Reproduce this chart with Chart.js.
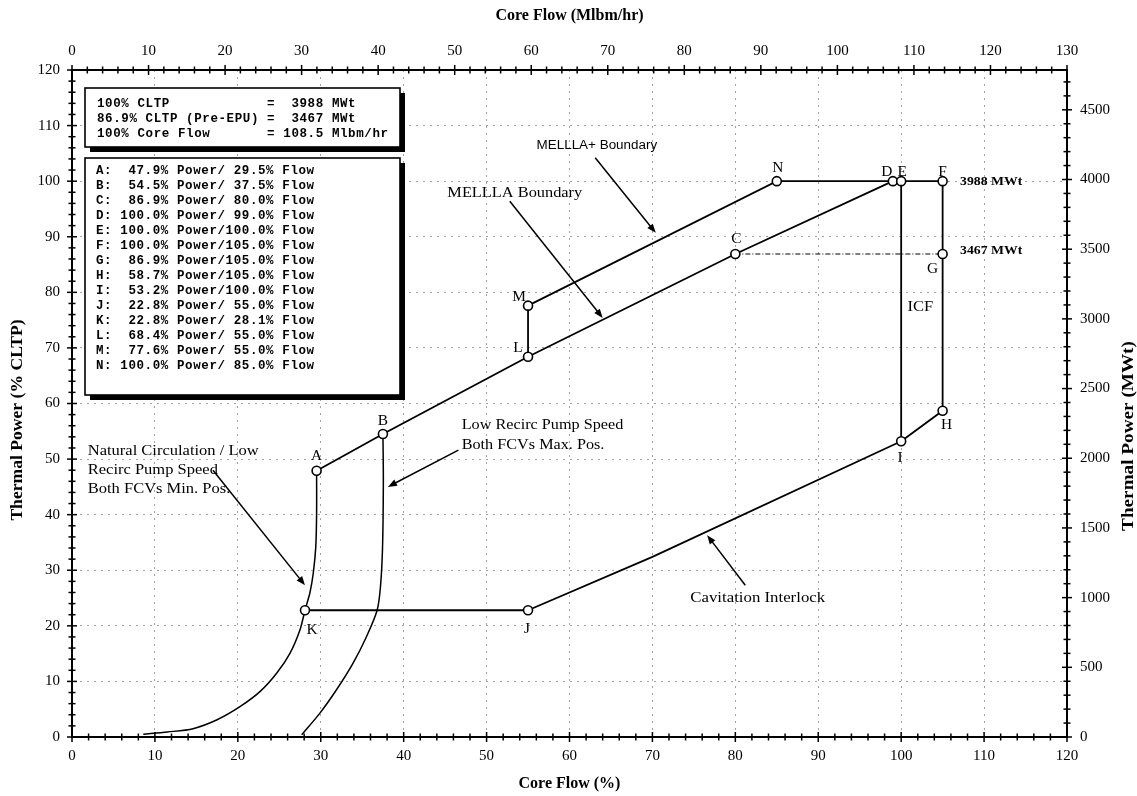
<!DOCTYPE html>
<html><head><meta charset="utf-8">
<script src="https://cdn.jsdelivr.net/npm/chart.js@4/dist/chart.umd.min.js"></script>
<style>html,body{margin:0;padding:0;background:#fff}#wrap{width:1137px;height:796px}</style>
</head><body><div id="wrap"><canvas id="c" width="1137" height="796"></canvas></div>
<script>
// ---------------- DATA ----------------
const flowTicks  = [0,10,20,30,40,50,60,70,80,90,100,110,120];
const powerTicks = [0,10,20,30,40,50,60,70,80,90,100,110,120];
const mlbmTicks  = [0,10,20,30,40,50,60,70,80,90,100,110,120,130];
const mwtTicks   = [0,500,1000,1500,2000,2500,3000,3500,4000,4500];

const pointNames = ['A','B','C','D','E','F','G','H','I','J','K','L','M','N'];
const pointPower = [47.9,54.5,86.9,100.0,100.0,100.0,86.9,58.7,53.2,22.8,22.8,68.4,77.6,100.0];
const pointFlow  = [29.5,37.5,80.0,99.0,100.0,105.0,105.0,105.0,100.0,55.0,28.1,55.0,55.0,85.0];

const cltpMWt = 3988;
const preEpuPct = 86.9;
const preEpuMWt = 3467;
const ratedCoreFlow = 108.5; // Mlbm/hr at 100% core flow

const melllaPath     = ['A','B','L','C','D'];
const melllaPlusPath = ['M','N','D','E','F'];
const lmPath         = ['L','M'];
const fghiPath       = ['F','G','H','I'];
const eiPath         = ['E','I'];
const jkPath         = ['J','K'];
const preEpuPath     = ['C','G'];

const cavFlow  = [55.0, 70.0, 100.0];
const cavPower = [22.8, 32.4, 53.2];

const natCircFlow  = [8.6,11.5,14.6,17.5,20.3,22.7,24.7,26.3,27.5,28.1,28.7,29.1,29.4,29.5,29.5];
const natCircPower = [0.5,0.9,1.5,3.1,5.5,8.2,11.5,15.1,19.3,22.8,26.0,29.5,34.2,40.2,47.9];

const recircMaxFlow  = [27.7,29.9,31.9,33.9,35.5,36.8,37.2,37.45,37.55,37.5];
const recircMaxPower = [0.4,4.3,8.5,13.3,18.0,22.8,27.0,34.0,46.0,54.5];

// ---------------- helpers ----------------
const pt = n => { const i = pointNames.indexOf(n); return {x: pointFlow[i], y: pointPower[i]}; };
const path = names => names.map(pt);
const zipXY = (xs, ys) => xs.map((x, i) => ({x, y: ys[i]}));

const SERIF = '"Liberation Serif", "Times New Roman", serif';
const SANS = '"Liberation Sans", Arial, sans-serif';
const MONO = '"Liberation Mono", "Courier New", monospace';

const lineDs = (data, extra) => Object.assign({
  data, showLine: true, borderColor: '#000', borderWidth: 1.8,
  pointRadius: 0, pointHoverRadius: 0, fill: false, tension: 0
}, extra || {});

// label offsets (px) for the point letters
const letterOffsets = {
  A:[0,-14], B:[0,-13], C:[1,-15], D:[-6,-9], E:[1,-9], F:[0,-9], G:[-10,15],
  H:[4,15], I:[-1,17], J:[-1,19], K:[7,20], L:[-10,-8], M:[-9,-8], N:[1,-13]
};

// annotations (data coordinates)
const notes = [
  {lines:['MELLLA+ Boundary'], x:63.3, y:106.3, font:'12px '+SANS, sx:1.12, align:'center'},
  {lines:['MELLLA Boundary'], x:53.4, y:97.9, font:'15px '+SERIF, sx:1.09, align:'center'},
  {lines:['Low Recirc Pump Speed','Both FCVs Max. Pos.'], x:47.0, y:56.1, font:'15px '+SERIF, sx:1.08, align:'left', lh:3.6},
  {lines:['Natural Circulation / Low','Recirc Pump Speed','Both FCVs Min. Pos.'], x:1.9, y:51.5, font:'15px '+SERIF, sx:1.1, align:'left', lh:3.45},
  {lines:['Cavitation Interlock'], x:82.7, y:25.0, font:'15px '+SERIF, sx:1.12, align:'center'},
  {lines:['ICF'], x:102.3, y:77.4, font:'15px '+SERIF, sx:1.1, align:'center'},
  {lines:[cltpMWt+' MWt'], x:107.1, y:99.9, font:'bold 12.5px '+SERIF, sx:1.1, align:'left'},
  {lines:[preEpuMWt+' MWt'], x:107.1, y:87.4, font:'bold 12.5px '+SERIF, sx:1.1, align:'left'}
];
const arrows = [
  [[63.1,104.2],[70.4,90.7]],
  [[52.8,96.4],[64.0,75.4]],
  [[46.6,51.6],[38.1,45.0]],
  [[17.0,48.0],[28.1,27.3]],
  [[81.2,27.3],[76.6,36.3]]
];

function stext(ctx, str, x, y, font, sx, align) {
  ctx.save();
  ctx.font = font; ctx.fillStyle = '#000';
  ctx.textBaseline = 'middle'; ctx.textAlign = align || 'center';
  ctx.translate(x, y); ctx.scale(sx || 1, 1);
  ctx.fillText(str, 0, 0);
  ctx.restore();
}
function arrow(ctx, x1, y1, x2, y2) {
  ctx.save();
  ctx.strokeStyle = '#000'; ctx.fillStyle = '#000'; ctx.lineWidth = 1.5;
  const a = Math.atan2(y2 - y1, x2 - x1), L = 9, W = 3.5;
  ctx.beginPath(); ctx.moveTo(x1, y1); ctx.lineTo(x2 - 4*Math.cos(a), y2 - 4*Math.sin(a)); ctx.stroke();
  ctx.beginPath(); ctx.moveTo(x2, y2);
  ctx.lineTo(x2 - L*Math.cos(a) + W*Math.sin(a), y2 - L*Math.sin(a) - W*Math.cos(a));
  ctx.lineTo(x2 - L*Math.cos(a) - W*Math.sin(a), y2 - L*Math.sin(a) + W*Math.cos(a));
  ctx.closePath(); ctx.fill();
  ctx.restore();
}
function monoText(ctx, str, x, y, step) {
  for (let i = 0; i < str.length; i++) ctx.fillText(str[i], x + i*step, y);
}
function shadowBox(ctx, x, y, w, h) {
  ctx.save();
  ctx.fillStyle = '#000';
  ctx.fillRect(x + 5, y + 5, w, h);
  ctx.fillStyle = '#fff';
  ctx.fillRect(x, y, w, h);
  ctx.strokeStyle = '#000'; ctx.lineWidth = 1.6;
  ctx.strokeRect(x, y, w, h);
  ctx.restore();
}

const decor = {
  id: 'decor',
  afterDraw(chart) {
    const {ctx, chartArea: {left, right, top, bottom}, scales} = chart;
    const sx = scales.x, sy = scales.y, sx2 = scales.x2, sy2 = scales.y2;
    // axis crosses
    ctx.save();
    ctx.strokeStyle = '#000'; ctx.lineWidth = 1.5;
    const seg = (a, b, c, d) => { ctx.beginPath(); ctx.moveTo(a, b); ctx.lineTo(c, d); ctx.stroke(); };
    for (let v = 0; v <= 120; v += 2) {
      const p = sx.getPixelForValue(v), h = v % 10 === 0 ? 5 : 3.5;
      seg(p, bottom - h, p, bottom + h);
    }
    for (let v = 0; v <= 130; v += 2) {
      const p = sx2.getPixelForValue(v), h = v % 10 === 0 ? 5 : 3.5;
      seg(p, top - h, p, top + h);
    }
    for (let v = 0; v <= 120; v += 2) {
      const p = sy.getPixelForValue(v), h = v % 10 === 0 ? 5 : 3.5;
      seg(left - h, p, left + h, p);
    }
    for (let v = 0; v <= 4700; v += 100) {
      const p = sy2.getPixelForValue(v), h = v % 500 === 0 ? 5 : 3.5;
      seg(right - h, p, right + h, p);
    }
    ctx.restore();

    // info boxes
    shadowBox(ctx, 85, 88, 315, 59);
    shadowBox(ctx, 85, 158, 315, 237);
    ctx.save();
    ctx.fillStyle = '#000'; ctx.font = 'bold 12.5px ' + MONO;
    ctx.textBaseline = 'middle'; ctx.textAlign = 'left';
    const box1 = [
      '100% CLTP'.padEnd(21) + '=  ' + cltpMWt + ' MWt',
      (preEpuPct.toFixed(1) + '% CLTP (Pre-EPU)').padEnd(21) + '=  ' + preEpuMWt + ' MWt',
      '100% Core Flow'.padEnd(21) + '= ' + ratedCoreFlow.toFixed(1) + ' Mlbm/hr'
    ];
    box1.forEach((s, i) => monoText(ctx, s, 97, 103.5 + i*15, 8.1));
    pointNames.forEach((n, i) => {
      const s = n + ':' + pointPower[i].toFixed(1).padStart(6) + '% Power/' +
                pointFlow[i].toFixed(1).padStart(5) + '% Flow';
      monoText(ctx, s, 96, 171 + i*14.95, 8.1);
    });
    ctx.restore();

    // annotations
    notes.forEach(n => {
      n.lines.forEach((ln, k) => {
        const px = sx.getPixelForValue(n.x);
        const py = sy.getPixelForValue(n.y - k*(n.lh || 0));
        stext(ctx, ln, px, py, n.font, n.sx, n.align);
      });
    });
    arrows.forEach(([a, b]) => arrow(ctx, sx.getPixelForValue(a[0]), sy.getPixelForValue(a[1]),
                                         sx.getPixelForValue(b[0]), sy.getPixelForValue(b[1])));
    // point letters
    pointNames.forEach((n, i) => {
      const o = letterOffsets[n];
      stext(ctx, n, sx.getPixelForValue(pointFlow[i]) + o[0], sy.getPixelForValue(pointPower[i]) + o[1],
            '14px ' + SERIF, 1.1, 'center');
    });

    // side titles (both read bottom-to-top)
    ctx.save();
    ctx.fillStyle = '#000'; ctx.font = 'bold 16px ' + SERIF;
    ctx.textAlign = 'center'; ctx.textBaseline = 'middle';
    ctx.translate(18, 420); ctx.rotate(-Math.PI/2); ctx.scale(1.1, 1);
    ctx.fillText('Thermal Power (% CLTP)', 0, 0);
    ctx.restore();
    ctx.save();
    ctx.fillStyle = '#000'; ctx.font = 'bold 16px ' + SERIF;
    ctx.textAlign = 'center'; ctx.textBaseline = 'middle';
    ctx.translate(1129, 436); ctx.rotate(-Math.PI/2); ctx.scale(1.2, 1);
    ctx.fillText('Thermal Power (MWt)', 0, 0);
    ctx.restore();
  }
};

const tickFont = {family: SERIF, size: 15};
const setTicks = arr => s => { s.ticks = arr.map(v => ({value: v})); };

new Chart(document.getElementById('c'), {
  type: 'scatter',
  data: {
    datasets: [
      {data: zipXY(pointFlow, pointPower), showLine: false, pointRadius: 4.5, pointHoverRadius: 4.5,
       pointBackgroundColor: '#fff', pointBorderColor: '#000', pointBorderWidth: 1.6},
      lineDs(path(melllaPath)),
      lineDs(path(melllaPlusPath)),
      lineDs(path(lmPath)),
      lineDs(path(fghiPath)),
      lineDs(path(eiPath)),
      lineDs(path(jkPath)),
      lineDs(zipXY(cavFlow, cavPower)),
      lineDs(path(preEpuPath), {borderWidth: 1.1, borderDash: [5, 2, 1, 2]}),
      lineDs(zipXY(natCircFlow, natCircPower), {tension: 0.3, borderWidth: 1.5}),
      lineDs(zipXY(recircMaxFlow, recircMaxPower), {tension: 0.3, borderWidth: 1.5})
    ]
  },
  options: {
    responsive: false, animation: false, devicePixelRatio: 1,
    layout: {padding: 0},
    plugins: {legend: {display: false}, tooltip: {enabled: false}},
    scales: {
      x: {
        type: 'linear', position: 'bottom', min: 0, max: 120,
        afterBuildTicks: setTicks(flowTicks),
        afterFit: s => { s.height = 59; },
        ticks: {font: tickFont, color: '#000', padding: 10, maxRotation: 0, callback: v => String(v)},
        title: {display: true, text: 'Core Flow (%)', color: '#000', font: {family: SERIF, size: 16, weight: 'bold'}, padding: {top: 0, bottom: 3}},
        grid: {color: '#a2a2a2', lineWidth: 1, drawTicks: false},
        border: {display: true, color: '#000', width: 2, dash: [2, 5]}
      },
      x2: {
        type: 'linear', position: 'top', min: 0, max: 130,
        afterBuildTicks: setTicks(mlbmTicks),
        afterFit: s => { s.height = 70; },
        ticks: {font: tickFont, color: '#000', padding: 10, maxRotation: 0, callback: v => String(v)},
        title: {display: true, text: 'Core Flow (Mlbm/hr)', color: '#000', font: {family: SERIF, size: 16, weight: 'bold'}, padding: {top: 6, bottom: 0}},
        grid: {display: false, drawTicks: false},
        border: {display: true, color: '#000', width: 2}
      },
      y: {
        type: 'linear', position: 'left', min: 0, max: 120,
        afterBuildTicks: setTicks(powerTicks),
        afterFit: s => { s.width = 72; },
        ticks: {font: tickFont, color: '#000', padding: 12, callback: v => String(v)},
        title: {display: false},
        grid: {color: '#a2a2a2', lineWidth: 1, drawTicks: false},
        border: {display: true, color: '#000', width: 2, dash: [2, 5]}
      },
      y2: {
        type: 'linear', position: 'right', min: 0, max: 1.2 * cltpMWt,
        afterBuildTicks: setTicks(mwtTicks),
        afterFit: s => { s.width = 70; },
        ticks: {font: tickFont, color: '#000', padding: 13, callback: v => String(v)},
        title: {display: false},
        grid: {display: false, drawTicks: false},
        border: {display: true, color: '#000', width: 2}
      }
    }
  },
  plugins: [decor]
});
</script></body></html>
